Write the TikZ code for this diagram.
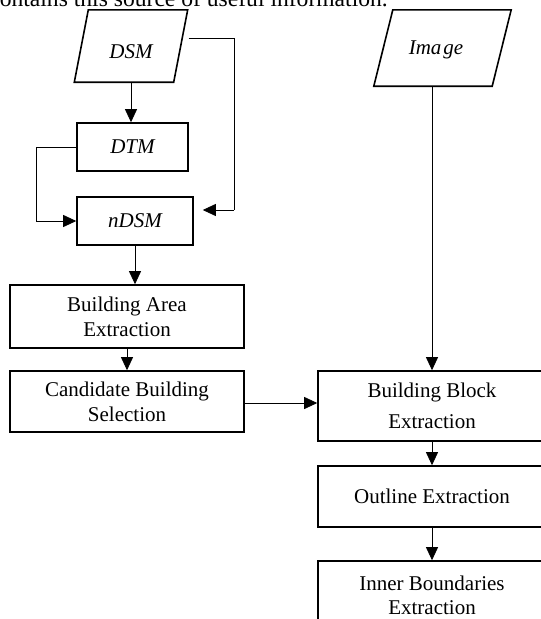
\documentclass[tikz,border=0pt]{standalone}
\usepackage{fontspec}
\setmainfont{Liberation Serif}
\usetikzlibrary{arrows.meta,calc}
\begin{document}
\begin{tikzpicture}[x=1pt,y=-1pt,
  box/.style={draw,line width=1.6pt,rectangle,inner sep=0pt,align=center,
    font=\fontsize{21}{25}\selectfont},
  conn/.style={line width=0.8pt,-{Triangle[length=13pt,width=12pt]}},
  plain/.style={line width=0.8pt},
  para/.style={line width=1.6pt,line join=miter}]
\useasboundingbox (0,0) rectangle (541,619);
\clip (0,0) rectangle (541,619);
% cut-off text line at the top
\node[anchor=base east,inner sep=0pt,font=\fontsize{23.6}{27}\selectfont] (top) at (388,6) {contains this source of useful information.};
% input parallelograms
\node[inner sep=0pt,minimum width=99pt,minimum height=72pt] (dsm) at (131,46) {};
\draw[para] ($(dsm.north west)+(7,0)$) -- ($(dsm.north east)+(7,0)$) -- ($(dsm.south east)+(-7,0)$) -- ($(dsm.south west)+(-7,0)$) -- cycle;
\node[font=\fontsize{21}{25}\selectfont\itshape] (dsmt) at (131,52) {DSM};
\node[inner sep=0pt,minimum width=118pt,minimum height=76pt] (img) at (442.5,48) {};
\draw[para] ($(img.north west)+(9.5,0)$) -- ($(img.north east)+(9.5,0)$) -- ($(img.south east)+(-9.5,0)$) -- ($(img.south west)+(-9.5,0)$) -- cycle;
\node[font=\fontsize{21}{25}\selectfont\itshape] (imgt) at (436,50) {Ima\kern2pt ge};
% process boxes
\node[box,minimum width=111pt,minimum height=48pt,font=\fontsize{21}{25}\selectfont\itshape] (dtm) at (132.5,147) {DTM};
\node[box,minimum width=116pt,minimum height=48pt,font=\fontsize{21}{25}\selectfont\itshape] (ndsm) at (135,221) {nDSM};
\node[box,minimum width=234pt,minimum height=63pt] (bae) at (127,316.5) {Building Area\\Extraction};
\node[box,minimum width=234pt,minimum height=61pt] (cbs) at (127,401.5) {Candidate Building\\Selection};
\node[box,minimum width=228pt,minimum height=70pt,font=\fontsize{21}{31}\selectfont] (bbe) at (432,406) {Building Block\\Extraction};
\node[box,minimum width=228pt,minimum height=61pt] (oe) at (432,496.5) {Outline Extraction};
\node[box,minimum width=228pt,minimum height=78pt] (ibe) at (432,600) {};
\node[font=\fontsize{21}{24}\selectfont,align=center] (ibet) at (432,595) {Inner Boundaries\\Extraction};
% connectors
\coordinate (dsmr) at ($(dsm.east)+(8,-8)$);
\coordinate (ndsmr) at ($(ndsm.east)+(9,-11)$);
\draw[conn] (dsm.south) -- (dsm.south |- dtm.north);
\draw[plain] (dsmr) -| (234,210) coordinate (bend1);
\draw[conn] (bend1) -- (ndsmr);
\draw[conn] (dtm.west) -| (36,221) -- (ndsm.west);
\draw[conn] (ndsm.south) -- (ndsm.south |- bae.north);
\draw[conn] (bae.south) -- (cbs.north);
\draw[conn] ($(cbs.east)+(0,1.5)$) -- ($(cbs.east -| bbe.west)+(0,1.5)$);
\draw[conn] (img.south -| bbe.north) -- (bbe.north);
\draw[conn] (bbe.south) -- (oe.north);
\draw[conn] (oe.south) -- (ibe.north);
\end{tikzpicture}
\end{document}
